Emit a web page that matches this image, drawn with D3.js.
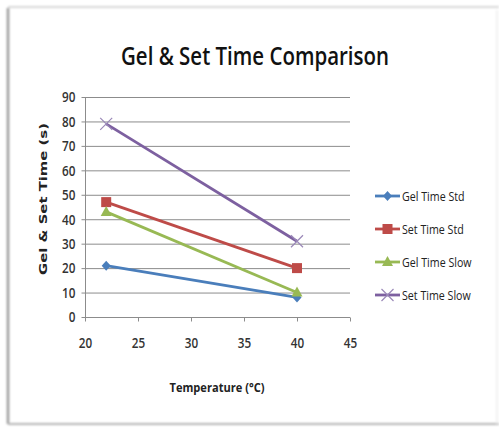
<!DOCTYPE html>
<html><head><meta charset="utf-8">
<script src="https://cdn.jsdelivr.net/npm/d3@7"></script>
<style>body{margin:0;background:#fff;}svg{display:block;}</style>
</head><body>
<script>
const temps = [22, 40];
const seriesNames = ["Gel Time Std", "Set Time Std", "Gel Time Slow", "Set Time Slow"];
const gelTimeStd = [21, 8];
const setTimeStd = [47, 20];
const gelTimeSlow = [43, 10];
const setTimeSlow = [79, 31];
const xTicks = [20, 25, 30, 35, 40, 45];
const yTicks = [0, 10, 20, 30, 40, 50, 60, 70, 80, 90];
const colors = ["#4a7ebb", "#be4b48", "#98b954", "#7d60a0"];
const markers = ["diamond", "square", "triangle", "x"];
const values = [gelTimeStd, setTimeStd, gelTimeSlow, setTimeSlow];

const W = 499, H = 427;
const svg = d3.select("body").append("svg").attr("width", W).attr("height", H);

function condense(sel, k) {
  sel.each(function() {
    const w = this.getComputedTextLength();
    d3.select(this).attr("textLength", w * k).attr("lengthAdjust", "spacingAndGlyphs");
  });
}

// card frame (soft shadowed edges)
const defs = svg.append("defs");
const f = defs.append("filter").attr("id","bl").attr("x","-50%").attr("y","-50%").attr("width","200%").attr("height","200%");
f.append("feGaussianBlur").attr("stdDeviation",1.2);
const frame = svg.append("g").attr("filter","url(#bl)");
frame.append("line").attr("x1",8).attr("x2",8).attr("y1",8).attr("y2",424).attr("stroke","#9a9a9a").attr("stroke-width",2.5);
frame.append("line").attr("x1",8).attr("x2",499).attr("y1",7).attr("y2",7).attr("stroke","#d8d8d8").attr("stroke-width",2);
frame.append("line").attr("x1",8).attr("x2",499).attr("y1",424).attr("y2",424).attr("stroke","#b4b4b4").attr("stroke-width",2);
frame.append("line").attr("x1",497).attr("x2",497).attr("y1",10).attr("y2",424).attr("stroke","#ececec").attr("stroke-width",1.5);

const x = d3.scaleLinear().domain([20, 45]).range([85, 350]);
const y = d3.scaleLinear().domain([0, 90]).range([317, 97]);

// title
svg.append("text").attr("x", 255).attr("y", 65).attr("text-anchor","middle")
  .attr("font-family","Open Sans, sans-serif").attr("font-size",25).attr("font-weight",600).attr("fill","#111")
  .attr("textLength",268).attr("lengthAdjust","spacingAndGlyphs")
  .text("Gel & Set Time Comparison");

// gridlines
svg.append("g").selectAll("line").data(yTicks.filter(d=>d>0)).join("line")
  .attr("x1", x(20)).attr("x2", x(45)).attr("y1", d=>y(d)+0.5).attr("y2", d=>y(d)+0.5)
  .attr("stroke","#8c8c8c").attr("stroke-width",1);

const tickFont = "Open Sans, sans-serif";
// y axis
const ya = svg.append("g").attr("transform",`translate(${x(20)+0.5},0)`)
  .call(d3.axisLeft(y).tickValues(yTicks).tickSize(4).tickPadding(6));
ya.select(".domain").attr("stroke","#8c8c8c").attr("d", `M0,${y(90)}V${y(0)}`);
ya.selectAll(".tick line").attr("stroke","#8c8c8c");
ya.selectAll("text").attr("font-family",tickFont).attr("font-size",15).attr("font-weight",600).attr("fill","#333").call(condense, 0.78);

// x axis
const xa = svg.append("g").attr("transform",`translate(0,${y(0)+0.5})`)
  .call(d3.axisBottom(x).tickValues(xTicks).tickSize(4).tickPadding(16));
xa.select(".domain").attr("stroke","#8c8c8c").attr("d", `M${x(20)},0H${x(45)}`);
xa.selectAll(".tick line").attr("stroke","#8c8c8c");
xa.selectAll("text").attr("font-family",tickFont).attr("font-size",15).attr("font-weight",600).attr("fill","#333").call(condense, 0.78);

// axis titles
svg.append("text").attr("transform","translate(47,199) rotate(-90)").attr("text-anchor","middle")
  .attr("font-family","DejaVu Sans, sans-serif").attr("font-weight","bold").attr("font-size",11).attr("fill","#222")
  .attr("textLength",152).attr("lengthAdjust","spacingAndGlyphs")
  .text("Gel & Set Time (s)");
svg.append("text").attr("x", 217).attr("y", 392).attr("text-anchor","middle")
  .attr("font-family",tickFont).attr("font-weight","bold").attr("font-size",13).attr("fill","#222")
  .attr("textLength",95).attr("lengthAdjust","spacingAndGlyphs")
  .text("Temperature (°C)");

function drawMarker(g, type, color, cx, cy) {
  if (type === "diamond") {
    g.append("path").attr("d", `M${cx},${cy-5}L${cx+4.5},${cy}L${cx},${cy+5}L${cx-4.5},${cy}Z`).attr("fill", color);
  } else if (type === "square") {
    g.append("rect").attr("x", cx-5).attr("y", cy-5).attr("width",10).attr("height",10).attr("fill",color);
  } else if (type === "triangle") {
    g.append("path").attr("d", `M${cx},${cy-6}L${cx+5.5},${cy+4}L${cx-5.5},${cy+4}Z`).attr("fill", color);
  } else {
    g.append("path").attr("d", `M${cx-6},${cy-6}L${cx+6},${cy+6}M${cx-6},${cy+6}L${cx+6},${cy-6}`)
      .attr("stroke", "#9a88b8").attr("stroke-width",1.2).attr("fill","none");
  }
}

const line = d3.line().x((d,i)=>x(temps[i])).y(d=>y(d));
values.forEach((vals, si) => {
  const g = svg.append("g");
  g.append("path").datum(vals).attr("d", line).attr("fill","none")
    .attr("stroke", colors[si]).attr("stroke-width", 2.8);
  vals.forEach((v,i) => drawMarker(g, markers[si], colors[si], x(temps[i]), y(v)));
});

// legend
const legY = d3.scalePoint().domain(seriesNames).range([196, 295]);
seriesNames.forEach((name, si) => {
  const g = svg.append("g");
  const cy = legY(name);
  g.append("line").attr("x1",375).attr("x2",400).attr("y1",cy).attr("y2",cy)
    .attr("stroke",colors[si]).attr("stroke-width",2.8);
  drawMarker(g, markers[si], colors[si], 387.5, cy);
  g.append("text").attr("x",402).attr("y",cy+4.5).attr("font-family",tickFont)
    .attr("font-size",13).attr("font-weight",500).attr("fill","#222").text(name).call(condense, 0.82);
});
</script>
</body></html>
